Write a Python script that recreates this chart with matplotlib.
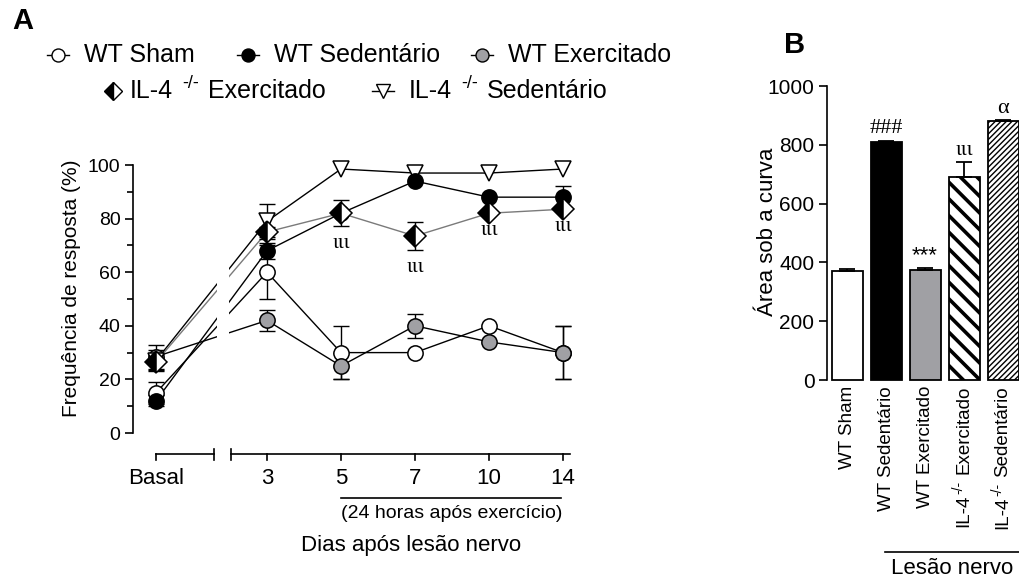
import matplotlib
matplotlib.use('Agg')
import matplotlib.pyplot as plt
from matplotlib.transforms import blended_transform_factory, Affine2D
import numpy as np

plt.rcParams['font.family'] = ['Liberation Sans', 'DejaVu Sans']
plt.rcParams['axes.linewidth'] = 1.2

# ---- painel A: frequência de resposta (%) ----
dias = ['Basal', '3', '5', '7', '10', '14']
sham = [15, 60, 30, 30, 40, 30]
sham_err = [4, 10, 10, 0, 0, 10]
sedentario = [12, 68, 82, 94, 88, 88]
sedentario_err = [2, 3, 0, 0, 0, 4]
exercitado = [28.5, 42, 25, 40, 34, 30]
exercitado_err = [4.5, 3.8, 5, 4.4, 0, 10]
il4_exercitado = [26.5, 75, 82, 73.5, 82, 83.5]
il4_exercitado_err = [3, 2, 4.8, 5.4, 0, 0]
il4_sedentario = [27, 79, 98.5, 97, 97, 98.5]
il4_sedentario_err = [4, 6.5, 0, 0, 0, 0]
dias_sig = ['5', '7', '10', '14']  # ιιι sob IL-4 exercitado

# ---- painel B: área sob a curva ----
# '|' marca onde entra o sobrescrito -/-
grupos = ['WT Sham', 'WT Sedentário', 'WT Exercitado',
          'IL-4|Exercitado', 'IL-4|Sedentário']
area = [370, 808, 375, 690, 880]
area_err = [8, 6, 7, 52, 5]
marcas = ['', '###', '***', 'ιιι', 'α']

CINZA = '#a0a0a4'
W, H = 1019, 578
fig = plt.figure(figsize=(W / 100, H / 100), dpi=100)
rend = fig.canvas.get_renderer()


def caixa(l, t, r, b):
    # retangulo em pixels -> fração da figura
    return [l / W, 1 - b / H, (r - l) / W, (b - t) / H]


# camada em pixels para textos soltos
ov = fig.add_axes([0, 0, 1, 1])
ov.set_xlim(0, W)
ov.set_ylim(H, 0)
ov.axis('off')


def compor(x, y, partes):
    # escreve pedaços de texto em sequência (para o sobrescrito -/-)
    for txt, dy, fs, gap in partes:
        t = ov.text(x, y + dy, txt, fontsize=fs, ha='left', va='center')
        x += t.get_window_extent(renderer=rend).width + gap


# ================= painel A =================
ax = fig.add_axes(caixa(133, 165, 575, 433))
ax.patch.set_visible(False)
ax.set_xlim((133 - 156) / 74, (575 - 156) / 74)
ax.set_ylim(0, 100)
ax.autoscale(False)
xpos = [0] + [i + 0.5 for i in range(1, len(dias))]
bt = blended_transform_factory(ax.transData, ov.transData)

series = [
    ('WT Sham', sham, sham_err, dict(marker='o', mfc='white'), 'black'),
    ('WT Exercitado', exercitado, exercitado_err, dict(marker='o', mfc=CINZA), 'black'),
    ('IL-4|Sedentário', il4_sedentario, il4_sedentario_err,
     dict(marker='v', mfc='white'), 'black'),
    ('WT Sedentário', sedentario, sedentario_err, dict(marker='o', mfc='black'), 'black'),
    ('IL-4|Exercitado', il4_exercitado, il4_exercitado_err,
     dict(marker='D', mfc='black', mfcalt='white', fillstyle='left'), '#7a7a7a'),
]
tam = {'o': 11, 'v': 12, 'D': 11}

for k, (nome, vals, errs, st, lc) in enumerate(series):
    ax.plot(xpos, vals, color=lc, lw=1, zorder=2)
    idx = [i for i, e in enumerate(errs) if e > 0]
    ax.errorbar([xpos[i] for i in idx], [vals[i] for i in idx],
                yerr=[errs[i] for i in idx], fmt='none', ecolor='black',
                elinewidth=1, capsize=6, capthick=1, zorder=3)
    ax.plot(xpos, vals, ls='none', ms=tam[st['marker']], mec='black', mew=1.1,
            zorder=4 + k, clip_on=False, **st)

# quebra das linhas entre basal e dia 3
ax.axvspan((217 - 156) / 74, (229 - 156) / 74, color='white', lw=0, zorder=2.5)

for i, d in enumerate(dias):
    if d in dias_sig:
        y = il4_exercitado[i] - il4_exercitado_err[i] - 6.5
        ax.text(xpos[i], y, 'ιιι', family='Liberation Serif', fontsize=16,
                ha='center', va='center')

for s in ['top', 'right', 'bottom']:
    ax.spines[s].set_visible(False)
ax.set_xticks([])
ax.set_yticks(range(0, 101, 20))
ax.set_yticks(range(10, 100, 20), minor=True)
ax.tick_params(axis='y', which='major', length=6, width=1.2, labelsize=14, pad=3)
ax.tick_params(axis='y', which='minor', length=4, width=1.2)
ov.text(72, 288, 'Frequência de resposta (%)', rotation=90, fontsize=15,
        ha='center', va='center')

# eixo x quebrado
ya = 454
quebra = [(214 - 156) / 74, (231 - 156) / 74, (570 - 156) / 74]
ax.plot([xpos[0], quebra[0]], [ya, ya], transform=bt, color='black', lw=1.2, clip_on=False)
ax.plot([quebra[1], quebra[2]], [ya, ya], transform=bt, color='black', lw=1.2, clip_on=False)
for q in quebra[:2]:
    ax.plot([q, q], [ya - 5, ya + 6], transform=bt, color='black', lw=1.2, clip_on=False)
for p, d in zip(xpos, dias):
    ax.plot([p, p], [ya, ya + 6], transform=bt, color='black', lw=1.2, clip_on=False)
    ax.text(p, 479, d, transform=bt, ha='center', va='center', fontsize=16)
ax.plot([xpos[2], xpos[-1] - 0.03], [498, 498], transform=bt, color='black', lw=1.2,
        clip_on=False)
ax.text(4.0, 513, '(24 horas após exercício)', transform=bt, ha='center',
        va='center', fontsize=14)
ov.text(411, 545, 'Dias após lesão nervo', ha='center', va='center', fontsize=16)

# legenda manual
FS_LEG = 18
leg = {
    'WT Sham': (58, 55, True),
    'WT Sedentário': (248, 55, True),
    'WT Exercitado': (482, 55, True),
    'IL-4|Exercitado': (113, 91, False),
    'IL-4|Sedentário': (383, 91, True),
}
for nome, vals, errs, st, lc in series:
    cx, cy, linha = leg[nome]
    if linha:
        ov.plot([cx - 11, cx + 11], [cy, cy], color='black', lw=1)
    ov.plot([cx], [cy], ls='none', ms=tam[st['marker']] * 0.85, mec='black', mew=1, **st)
    tx = cx + 26 if linha else cx + 17
    if '|' in nome:
        base, resto = nome.split('|')
        compor(tx, cy, [(base, 0, FS_LEG, 9), ('-/-', -8, 13, 9), (resto, 0, FS_LEG, 0)])
    else:
        ov.text(tx, cy, nome, fontsize=FS_LEG, ha='left', va='center')

ov.text(23, 21, 'A', fontsize=21, fontweight='bold', ha='center', va='center')
ov.text(795, 45, 'B', fontsize=21, fontweight='bold', ha='center', va='center')

# ================= painel B =================
bx = fig.add_axes(caixa(827, 86, 1019, 380))
bx.patch.set_visible(False)
pos = np.arange(len(grupos))
cores = ['white', 'black', CINZA, 'white', 'white']
hachuras = [None, None, None, '\\\\', '//////']
hlw = [1, 1, 1, 2.6, 1.0]
bars = bx.bar(pos, area, width=0.795, color=cores, edgecolor='black', linewidth=1.3,
              clip_on=False)
for b, h, lw in zip(bars, hachuras, hlw):
    if h:
        b.set_hatch(h)
        try:
            b.set_hatch_linewidth(lw)
        except AttributeError:
            plt.rcParams['hatch.linewidth'] = 1.8
bx.errorbar(pos, area, yerr=[np.zeros(len(area)), area_err], fmt='none', ecolor='black',
            elinewidth=1.3, capsize=6, capthick=1.3, clip_on=False)
fontes = {'###': 'Liberation Serif', '***': 'Liberation Sans',
          'ιιι': 'Liberation Serif', 'α': 'Liberation Serif'}
for p, v, e, m in zip(pos, area, area_err, marcas):
    if m:
        bx.text(p, v + e + 40, m, family=fontes[m], fontsize=16, ha='center', va='center')

bx.set_xlim(-0.513, 4.41)
bx.set_ylim(0, 1000)
for s in ['top', 'right', 'bottom']:
    bx.spines[s].set_visible(False)
bx.set_yticks(range(0, 1001, 200))
bx.tick_params(axis='y', length=6, width=1.2, labelsize=15, pad=3)
bx.set_xticks([])

# rótulos das barras, girados (lidos de baixo para cima), com sobrescrito -/-
btb = blended_transform_factory(bx.transData, ov.transData)
for p, g in zip(pos, grupos):
    if '|' in g:
        base, resto = g.split('|')
        # (texto, deslocamento p/ esquerda, tamanho, espaço até o pedaço seguinte)
        partes = [(base, 0, 13.5, 1), ('-/-', -6, 10, 6), (resto, 0, 13.5, 0)]
    else:
        partes = [(g, 0, 13.5, 0)]
    y = 386
    anterior = [0] + [pt[3] for pt in partes[:-1]]
    for (txt, dx, fs, _), gap in zip(reversed(partes), reversed(anterior)):
        t = bx.text(p, y, txt, rotation=90, fontsize=fs, ha='center', va='top',
                    transform=btb + Affine2D().translate(dx, 0))
        y += t.get_window_extent(renderer=rend).height + gap

ov.text(768, 232, 'Área sob a curva', rotation=90, fontsize=16, ha='center', va='center')
ov.plot([885, 1019], [552, 552], color='black', lw=1.2)
ov.text(952, 568, 'Lesão nervo', fontsize=16, ha='center', va='center')

fig.savefig('out.png', dpi=100)
